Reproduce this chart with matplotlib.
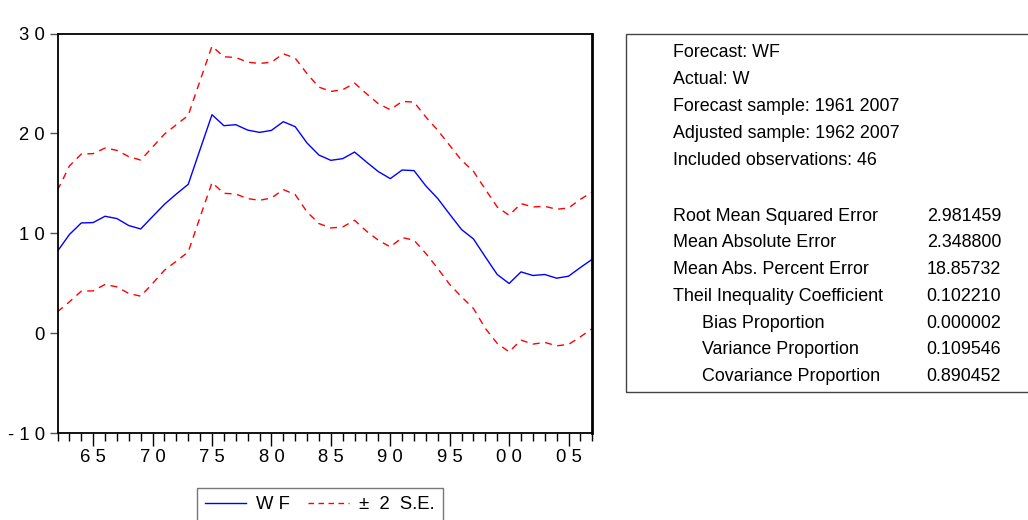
import matplotlib
matplotlib.use("Agg")
import matplotlib.pyplot as plt
from matplotlib.lines import Line2D
from matplotlib.patches import Rectangle
import numpy as np

years = list(range(1962, 2008))
wf = [8.2, 9.87, 11.03, 11.07, 11.7, 11.47, 10.77, 10.43, 11.67, 12.9,
      13.93, 14.9, 18.4, 21.87, 20.77, 20.87, 20.33, 20.1, 20.3, 21.17,
      20.67, 19.03, 17.83, 17.3, 17.47, 18.13, 17.13, 16.17, 15.47, 16.33,
      16.27, 14.73, 13.47, 11.9, 10.37, 9.43, 7.63, 5.87, 4.97, 6.13,
      5.77, 5.87, 5.5, 5.7, 6.57, 7.4]
upper = [14.3, 16.73, 17.93, 17.97, 18.53, 18.3, 17.67, 17.33, 18.63, 19.93,
         20.87, 21.8, 25.3, 28.73, 27.67, 27.6, 27.13, 27.0, 27.13, 27.97,
         27.53, 25.97, 24.63, 24.2, 24.37, 25.03, 23.97, 22.97, 22.37, 23.2,
         23.13, 21.63, 20.3, 18.8, 17.3, 16.2, 14.4, 12.63, 11.8, 12.97,
         12.63, 12.7, 12.4, 12.53, 13.4, 14.13]
lower = [2.13, 3.13, 4.2, 4.23, 4.87, 4.63, 3.97, 3.7, 4.97, 6.3,
         7.2, 8.13, 11.63, 15.07, 14.0, 13.93, 13.47, 13.3, 13.53, 14.37,
         13.87, 12.13, 10.97, 10.53, 10.63, 11.3, 10.2, 9.3, 8.63, 9.57,
         9.3, 7.97, 6.47, 4.87, 3.63, 2.47, 0.47, -1.03, -1.87, -0.7,
         -1.1, -0.93, -1.27, -1.13, -0.37, 0.47]

ytick_vals = [30, 20, 10, 0, -10]
ytick_labels = ["3 0", "2 0", "1 0", "0", "- 1 0"]
xtick_vals = [1965, 1970, 1975, 1980, 1985, 1990, 1995, 2000, 2005]
xtick_labels = ["6 5", "7 0", "7 5", "8 0", "8 5", "9 0", "9 5", "0 0", "0 5"]
legend_labels = ["W F", "±  2  S.E."]

header_lines = ["Forecast: WF", "Actual: W", "Forecast sample: 1961 2007",
                "Adjusted sample: 1962 2007", "Included observations: 46"]
stat_names = ["Root Mean Squared Error", "Mean Absolute Error",
              "Mean Abs. Percent Error", "Theil Inequality Coefficient",
              "Bias Proportion", "Variance Proportion", "Covariance Proportion"]
stat_values = ["2.981459", "2.348800", "18.85732", "0.102210",
               "0.000002", "0.109546", "0.890452"]
stat_indent = [False, False, False, False, True, True, True]

plt.rcParams['font.family'] = ['Liberation Sans', 'DejaVu Sans']

W, H = 1028, 520
fig = plt.figure(figsize=(W / 100, H / 100), dpi=100)

def fx(px):
    return px / W

def fy(py):
    return 1 - py / H

ax_l, ax_r, ax_t, ax_b = 57.5, 592.3, 33.5, 433.0
ax = fig.add_axes([fx(ax_l), fy(ax_b), fx(ax_r - ax_l), (ax_b - ax_t) / H])

ax.plot(years, upper, color=(1, 0, 0), lw=1.0, dashes=(5, 4))
ax.plot(years, lower, color=(1, 0, 0), lw=1.0, dashes=(5, 4))
ax.plot(years, wf, color=(0, 0, 1), lw=1.0)

ax.set_xlim(1962, 2007)
ax.set_ylim(-10, 30)
ax.set_yticks(ytick_vals)
ax.set_yticklabels(ytick_labels)
ax.set_xticks(xtick_vals)
ax.set_xticklabels(xtick_labels)
ax.set_xticks(years, minor=True)
ax.tick_params(axis='y', direction='out', length=6, width=1, color='#555555',
               labelsize=13.3, pad=3)
ax.tick_params(axis='x', which='major', direction='out', length=9.5, width=1,
               color='black', labelsize=13.3, pad=2)
ax.tick_params(axis='x', which='minor', direction='out', length=6, width=1,
               color='black')
for s in ax.spines.values():
    s.set_linewidth(1.3)
    s.set_color('black')
ax.spines['right'].set_linewidth(2.0)

# legend
handles = [Line2D([], [], color=(0, 0, 1), lw=1.0),
           Line2D([], [], color=(1, 0, 0), lw=1.0, dashes=(4, 3.2))]
leg = fig.legend(handles, legend_labels, ncol=2,
                 loc='upper left', bbox_to_anchor=(fx(197), fy(488)),
                 fontsize=13.3, frameon=True, fancybox=False,
                 handlelength=2.2, handletextpad=0.55, columnspacing=1.0,
                 borderpad=0.45, borderaxespad=0)
leg.get_frame().set_edgecolor('#555555')
leg.get_frame().set_linewidth(1.0)

# statistics box
box = Rectangle((fx(625.7), fy(392)), fx(1028 - 625.7 + 20), (392 - 34) / H,
                transform=fig.transFigure, fill=False, edgecolor='#444444',
                lw=1.0, clip_on=False)
fig.patches.append(box)

y0 = 52.7
step = 27.0
for i, line in enumerate(header_lines):
    fig.text(fx(672.7), fy(y0 + i * step), line, fontsize=12.9,
             va='center', ha='left')
y1 = 216.0
for i, (nm, val, ind) in enumerate(zip(stat_names, stat_values, stat_indent)):
    yy = fy(y1 + i * 26.8)
    fig.text(fx(701.7 if ind else 672.7), yy, nm, fontsize=12.9,
             va='center', ha='left')
    fig.text(fx(926.7), yy, val, fontsize=12.9, va='center', ha='left')

fig.savefig("out.png", dpi=100)
